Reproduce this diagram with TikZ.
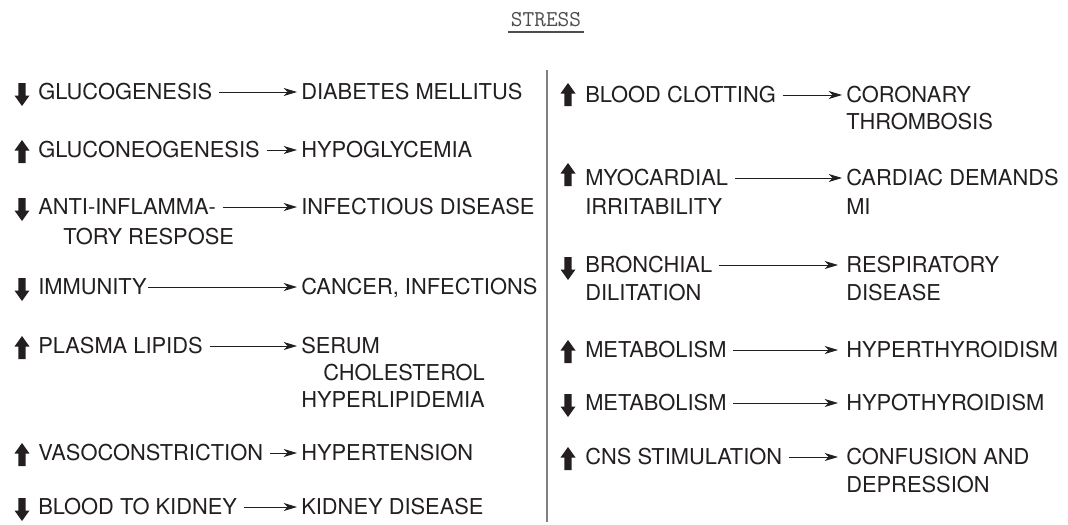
\documentclass[tikz,border=0pt]{standalone}
\usepackage{fontspec}
\setmainfont{TeX Gyre Heros}
\usepackage{xcolor}
\usepackage{tikz}
\usetikzlibrary{arrows.meta}

\definecolor{ink}{HTML}{231F20}

\tikzset{
	txt/.style={anchor=west, inner xsep=0pt, inner ysep=0pt, text height=11.7pt, text depth=0pt, text=ink, font=\fontsize{16.4}{19}\selectfont},
	ttl/.style={inner xsep=2pt, inner ysep=0pt, text=ink!80, font=\ttfamily\fontsize{17}{20}\selectfont},
	conn/.style={draw=ink, line width=0.6pt, shorten <=5pt, shorten >=3pt, -{Stealth[length=10pt,width=6pt,inset=3pt]}},
	uparr/.pic={\fill[ink] (0,-12) -- (7.5,-1.5) -- (3.7,-1.5) -- (3.7,11) -- (-3.7,11) -- (-3.7,-1.5) -- (-7.5,-1.5) -- cycle;},
	dnarr/.pic={\fill[ink] (0,12) -- (7.5,1.5) -- (3.7,1.5) -- (3.7,-11) -- (-3.7,-11) -- (-3.7,1.5) -- (-7.5,1.5) -- cycle;}
}

\begin{document}
\begin{tikzpicture}[x=0.75pt, y=-0.75pt]
	\useasboundingbox (0,0) rectangle (1068,525);
	
	% title
	\node[ttl] (stress) at (546,20) {STRESS};
	\draw[draw=ink!80, line width=1pt] ([yshift=-3.75pt]stress.base west) -- ([yshift=-3.75pt]stress.base east);
	
	% divider
	\draw[draw=gray, line width=1.3pt] (547,70) -- (547,522);
	
	% left column
	\pic at (22,94) {dnarr};
	\node[txt] (glu) at (38,92) {GLUCOGENESIS};
	\node[txt] (dm) at (301,92) {DIABETES MELLITUS};
	\draw[conn] (glu.east) -- (dm.west);
	
	\pic at (22,152) {uparr};
	\node[txt] (gneo) at (38,150) {GLUCONEOGENESIS};
	\node[txt] (hypo) at (301,150) {HYPOGLYCEMIA};
	\draw[conn] (gneo.east) -- (hypo.west);
	
	\pic at (22,209) {dnarr};
	\node[txt] (antia) at (38,207) {ANTI-INFLAMMA-};
	\node[txt] (antib) at (63,237) {TORY RESPOSE};
	\node[txt] (infect) at (301,207) {INFECTIOUS DISEASE};
	\draw[conn] (antia.east) -- (infect.west);
	
	\pic at (22,289) {dnarr};
	\node[txt] (immu) at (38,287) {IMMUNITY};
	\node[txt] (cancer) at (301,287) {CANCER, INFECTIONS};
	\draw[conn, shorten <=1pt] (immu.east) -- (cancer.west);
	
	\pic at (22,348) {uparr};
	\node[txt] (lipid) at (38,346) {PLASMA LIPIDS};
	\node[txt] (serum) at (301,346) {SERUM};
	\node[txt] (chol) at (323,373) {CHOLESTEROL};
	\node[txt] (hlip) at (301,400) {HYPERLIPIDEMIA};
	\draw[conn] (lipid.east) -- (serum.west);
	
	\pic at (22,455) {uparr};
	\node[txt] (vaso) at (38,453) {VASOCONSTRICTION};
	\node[txt] (htn) at (301,453) {HYPERTENSION};
	\draw[conn] (vaso.east) -- (htn.west);
	
	\pic at (22,509) {dnarr};
	\node[txt] (kid) at (38,507) {BLOOD TO KIDNEY};
	\node[txt] (kdis) at (301,507) {KIDNEY DISEASE};
	\draw[conn] (kid.east) -- (kdis.west);
	
	% right column
	\pic at (568,95) {uparr};
	\node[txt] (clot) at (585,95) {BLOOD CLOTTING};
	\node[txt] (coro) at (846,95) {CORONARY};
	\node[txt] (thromb) at (846,122) {THROMBOSIS};
	\draw[conn] (clot.east) -- (coro.west);
	
	\pic at (568,175) {uparr};
	\node[txt] (myo) at (585,178) {MYOCARDIAL};
	\node[txt] (irr) at (585,207) {IRRITABILITY};
	\node[txt] (card) at (846,178) {CARDIAC DEMANDS};
	\node[txt] (mi) at (846,207) {MI};
	\draw[conn] (myo.east) -- (card.west);
	
	\pic at (568,268) {dnarr};
	\node[txt] (bron) at (585,265) {BRONCHIAL};
	\node[txt] (dil) at (585,293) {DILITATION};
	\node[txt] (resp) at (846,265) {RESPIRATORY};
	\node[txt] (rdis) at (846,293) {DISEASE};
	\draw[conn, shorten >=6pt] (bron.east) -- (resp.west);
	
	\pic at (568,352) {uparr};
	\node[txt] (metu) at (585,350) {METABOLISM};
	\node[txt] (hyper) at (846,350) {HYPERTHYROIDISM};
	\draw[conn, shorten >=6pt] (metu.east) -- (hyper.west);
	
	\pic at (568,405) {dnarr};
	\node[txt] (metd) at (585,403) {METABOLISM};
	\node[txt] (hypot) at (846,403) {HYPOTHYROIDISM};
	\draw[conn, shorten >=6pt] (metd.east) -- (hypot.west);
	
	\pic at (568,459) {uparr};
	\node[txt] (cns) at (585,457) {CNS STIMULATION};
	\node[txt] (conf) at (846,457) {CONFUSION AND};
	\node[txt] (depr) at (846,485) {DEPRESSION};
	\draw[conn, shorten >=6pt] (cns.east) -- (conf.west);
\end{tikzpicture}
\end{document}
